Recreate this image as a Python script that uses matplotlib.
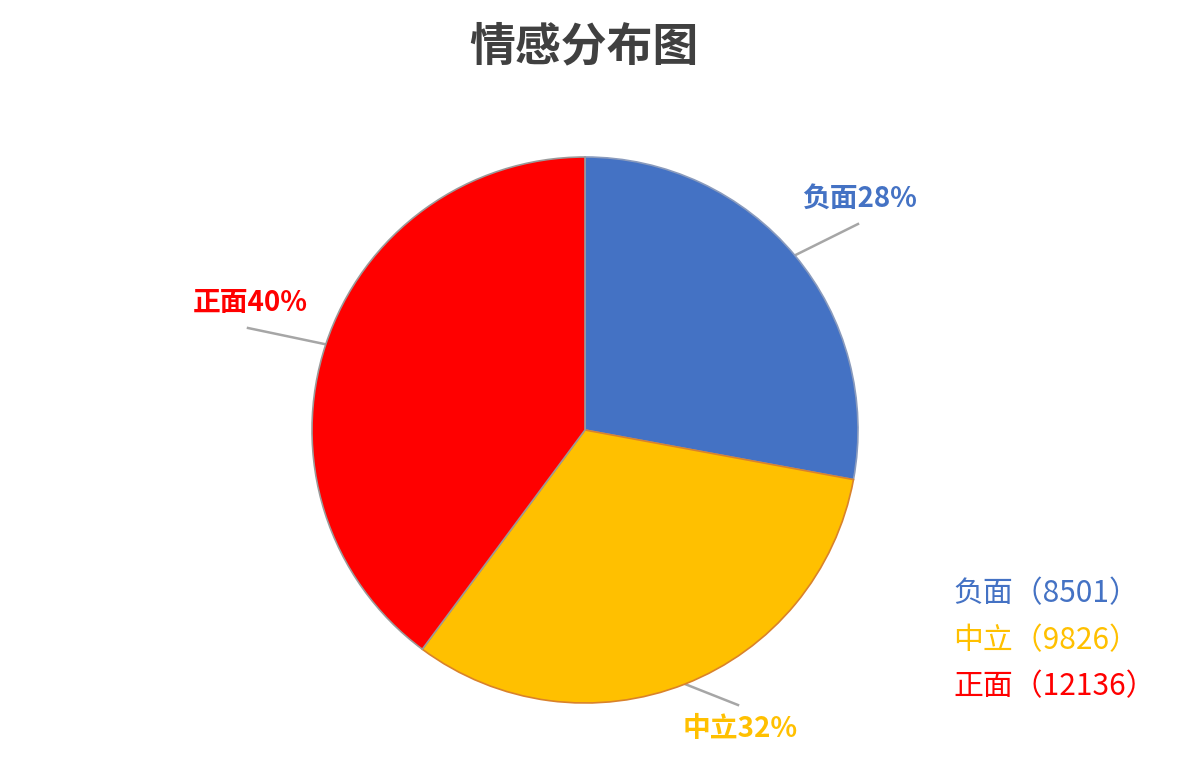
import numpy as np
import matplotlib
matplotlib.use('Agg')
import matplotlib.pyplot as plt

plt.rcParams['font.family'] = ['Noto Sans CJK SC', 'DejaVu Sans']

# 数据
categorias = ['负面', '中立', '正面']
valores = [8501, 9826, 12136]
cores = ['#4472C4', '#FFC000', '#FF0000']
bordas = ['#8a9bbd', '#d9822b', '#9a9a9a']
titulo = '情感分布图'
# posição dos rótulos de dados (pixels, y para cima)
pos_rotulos = [(860, 572), (740, 42), (250, 468)]

fig = plt.figure(figsize=(12, 7.7), dpi=100)
ax = fig.add_axes([0, 0, 1, 1])

cx, cy, r = 585, 340, 273
wedges, _ = ax.pie(valores, colors=cores, startangle=90, counterclock=False,
                   center=(cx, cy), radius=r, frame=True,
                   wedgeprops={'linewidth': 1.2})
for w, b in zip(wedges, bordas):
    w.set_edgecolor(b)
ax.set_xlim(0, 1200)
ax.set_ylim(0, 770)
ax.set_aspect('equal')
ax.axis('off')

total = sum(valores)
for w, nome, v, c, (tx, ty) in zip(wedges, categorias, valores, cores, pos_rotulos):
    ang = np.deg2rad((w.theta1 + w.theta2) / 2)
    ex, ey = cx + r * np.cos(ang), cy + r * np.sin(ang)
    fim_y = ty - 26 if ty > cy else ty + 23
    ax.plot([ex, tx - 2], [ey, fim_y], color='#a6a6a6', lw=1.8, zorder=0)
    ax.text(tx, ty - 1, f'{nome}{round(v / total * 100)}%',
            color=c, fontsize=20, fontweight='bold', ha='center', va='center')

ax.text(584, 723, titulo, color='#404040', fontsize=33, fontweight='bold',
        ha='center', va='center')

# legenda como texto
for i, (nome, v, c) in enumerate(zip(categorias, valores, cores)):
    ax.text(953, 176 - i * 46.5, f'{nome}（{v}）', color=c, fontsize=21.5,
            ha='left', va='center')

fig.savefig('out.png', dpi=100)
